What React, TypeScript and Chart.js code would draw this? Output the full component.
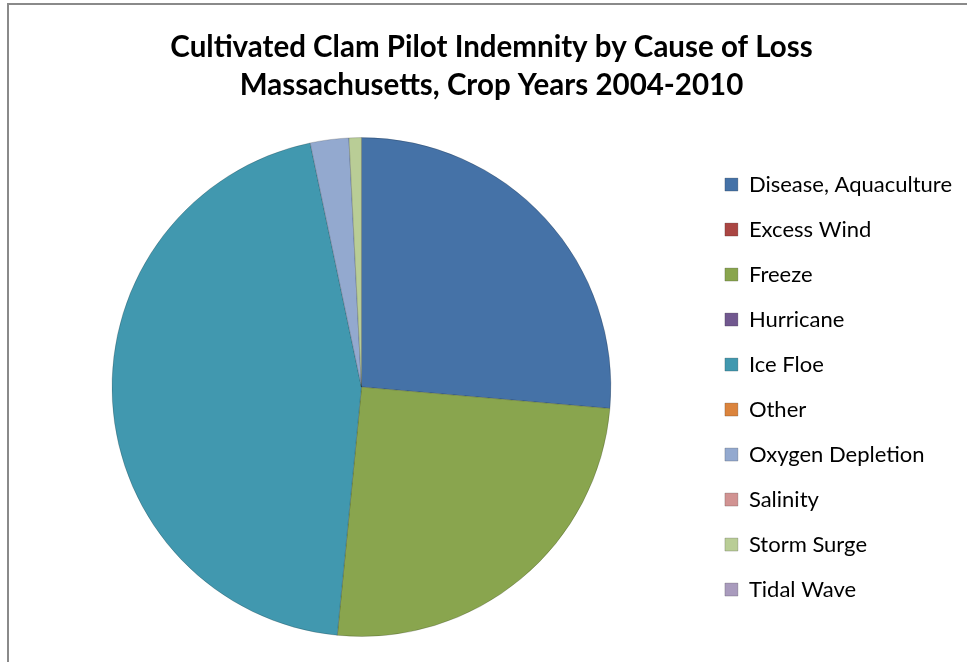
import React, { useEffect, useRef } from "react";
import { Chart, registerables } from "chart.js";

Chart.register(...registerables);

const causes = [
  "Disease, Aquaculture",
  "Excess Wind",
  "Freeze",
  "Hurricane",
  "Ice Floe",
  "Other",
  "Oxygen Depletion",
  "Salinity",
  "Storm Surge",
  "Tidal Wave",
];
const indemnityShare = [26.4, 0, 25.2, 0, 45.2, 0, 2.5, 0, 0.8, 0];
const sliceColors = [
  "#4572A7",
  "#AA4643",
  "#89A54E",
  "#71588F",
  "#4198AF",
  "#DB843D",
  "#93A9CF",
  "#D19392",
  "#B9CD96",
  "#A99BBD",
];
const titleLines = [
  "Cultivated Clam Pilot Indemnity by Cause of Loss",
  "Massachusetts, Crop Years 2004-2010",
];

export default function App() {
  const ref = useRef<HTMLCanvasElement | null>(null);
  useEffect(() => {
    if (!ref.current) return;
    const chart = new Chart(ref.current, {
      type: "pie",
      data: {
        labels: causes,
        datasets: [
          {
            data: indemnityShare,
            backgroundColor: sliceColors,
            borderColor: "rgba(0,0,0,0.18)",
            borderWidth: 1,
          },
        ],
      },
      options: {
        responsive: false,
        animation: false,
        layout: { padding: { left: 12, right: 5, top: 0, bottom: 25 } },
        plugins: {
          tooltip: { enabled: false },
          title: {
            display: true,
            text: titleLines,
            color: "#000",
            font: { family: "Lato", size: 29.5, weight: "bold", lineHeight: 1.29 },
            padding: { top: 23, bottom: 33 },
          },
          legend: {
            position: "right",
            fullSize: false,
            labels: {
              color: "#000",
              font: { family: "Lato", size: 22 },
              boxWidth: 13,
              boxHeight: 13,
              padding: 23,
            },
          },
        },
      },
    });
    return () => chart.destroy();
  }, []);
  return (
    <div
      style={{
        position: "absolute",
        left: 7,
        top: 3,
        width: 960,
        height: 659,
        borderLeft: "2px solid #8a8a8a",
        borderTop: "2px solid #8a8a8a",
        background: "#fff",
        overflow: "hidden",
      }}
    >
      <canvas ref={ref} width={958} height={657} style={{ display: "block" }} />
    </div>
  );
}
